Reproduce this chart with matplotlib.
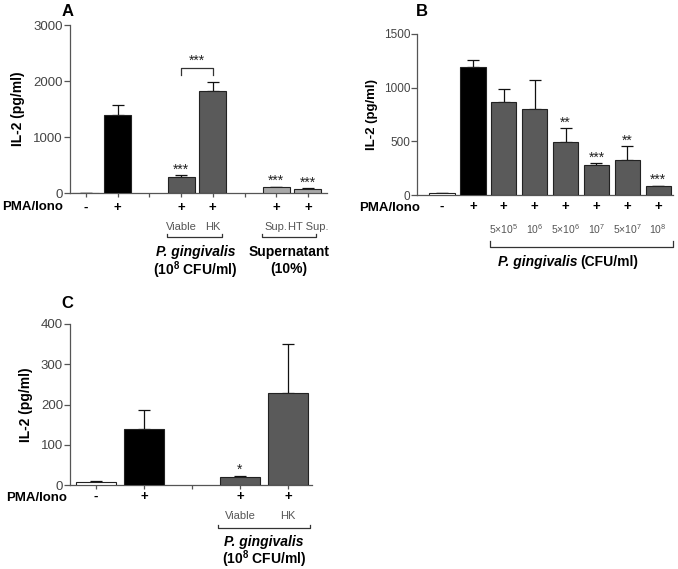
import matplotlib
matplotlib.use("Agg")
import matplotlib.pyplot as plt
import matplotlib.transforms as mtransforms

plt.rcParams['font.family'] = ['Liberation Sans', 'DejaVu Sans']
plt.rcParams['mathtext.fontset'] = 'custom'
plt.rcParams['mathtext.rm'] = 'Liberation Sans'
plt.rcParams['mathtext.bf'] = 'Liberation Sans:bold'

# ---------------- data ----------------
# Panel A
a_pos = [0, 1, 3, 4, 6, 7]
a_vals = [5, 1400, 280, 1820, 100, 70]
a_err = [5, 1580, 320, 1980, 110, 85]
a_colors = ['white', 'black', '#5a5a5a', '#5a5a5a', '#a8a8a8', '#a8a8a8']
a_pma = ['-', '+', '+', '+', '+', '+']
a_sub = ['', '', 'Viable', 'HK', 'Sup.', 'HT Sup.']
a_stars = ['', '', '***', '', '***', '***']

# Panel B
b_pos = [0, 1, 2, 3, 4, 5, 6, 7]
b_vals = [15, 1190, 870, 805, 490, 280, 325, 80]
b_err = [15, 1255, 990, 1070, 620, 295, 455, 88]
b_colors = ['white', 'black'] + ['#5a5a5a'] * 6
b_pma = ['-', '+', '+', '+', '+', '+', '+', '+']
b_conc = ['', '', r'5×10$^{5}$', r'10$^{6}$', r'5×10$^{6}$', r'10$^{7}$', r'5×10$^{7}$', r'10$^{8}$']
b_stars = ['', '', '', '', '**', '***', '**', '***']

# Panel C
c_pos = [0, 1, 3, 4]
c_vals = [7, 140, 19, 229]
c_err = [9, 187, 23, 350]
c_colors = ['white', 'black', '#5a5a5a', '#5a5a5a']
c_pma = ['-', '+', '+', '+']
c_sub = ['', '', 'Viable', 'HK']
c_stars = ['', '', '*', '']

W, H = 678, 569
fig = plt.figure(figsize=(W / 100, H / 100), dpi=100)


def fx(x):
    return x / W


def fy(y):
    return 1 - y / H


def make_ax(left, right, top, bottom):
    return fig.add_axes([fx(left), fy(bottom), (right - left) / W, (bottom - top) / H])


SPINE = '#555555'
TICKC = '#444444'
SUBC = '#555555'


def style(ax, xlim, ylim, yticks, slot_ticks, tsize=9.5, lsize=10):
    ax.set_xlim(*xlim)
    ax.set_ylim(*ylim)
    ax.set_yticks(yticks)
    ax.set_xticks(slot_ticks)
    ax.set_xticklabels([])
    for s in ['top', 'right']:
        ax.spines[s].set_visible(False)
    for s in ['left', 'bottom']:
        ax.spines[s].set_color(SPINE)
        ax.spines[s].set_linewidth(0.9)
    ax.tick_params(axis='y', direction='out', length=4, width=0.9, color=SPINE,
                   labelsize=tsize, labelcolor=TICKC, pad=1)
    ax.tick_params(axis='x', direction='out', length=3, width=0.9, color=SPINE)
    ax.set_ylabel('IL-2 (pg/ml)', fontsize=lsize, fontweight='bold', labelpad=3)


def bars(ax, pos, vals, err, colors, width, stars, star_size=10):
    ax.bar(pos, vals, width=width, color=colors, edgecolor='#222222', linewidth=0.8, zorder=3)
    lower = [0] * len(vals)
    upper = [e - v for e, v in zip(err, vals)]
    ax.errorbar(pos, vals, yerr=[lower, upper], fmt='none', ecolor='#111111',
                elinewidth=0.9, capsize=4, capthick=0.9, zorder=2)
    for p, e, s in zip(pos, err, stars):
        if s:
            ax.annotate(s, (p, e), xytext=(0, -1), textcoords='offset points',
                        ha='center', va='bottom', fontsize=star_size, color='#222222')


def below(ax, x, ypix, s, **kw):
    tr = mtransforms.blended_transform_factory(ax.transData, fig.transFigure)
    kw.setdefault('ha', 'center')
    ax.text(x, fy(ypix), s, transform=tr, va='center', clip_on=False, **kw)


def bracket(ax, x0, x1, ypix, hpix=3):
    tr = mtransforms.blended_transform_factory(ax.transData, fig.transFigure)
    ax.plot([x0, x0, x1, x1], [fy(ypix - hpix), fy(ypix), fy(ypix), fy(ypix - hpix)],
            transform=tr, color='#333333', lw=0.9, clip_on=False)


CFU = r'(10$^{\mathbf{8}}$ CFU/ml)'

# ---------------- Panel A ----------------
axA = make_ax(70, 327, 25, 193)
bars(axA, a_pos, a_vals, a_err, a_colors, 0.85, a_stars)
style(axA, (-0.5, 7.6), (0, 3000), [0, 1000, 2000, 3000], list(range(8)))
axA.yaxis.set_label_coords(fx(25 - 70) / ((327 - 70) / W), 0.5)
# significance bracket viable vs HK
axA.plot([3, 3, 4, 4], [2110, 2235, 2235, 2110], color='#333333', lw=0.9)
axA.text(3.5, 2230, '***', ha='center', va='bottom', fontsize=10, color='#222222')
for p, m, s in zip(a_pos, a_pma, a_sub):
    below(axA, p, 208, m, fontsize=9.5, fontweight='bold')
    if s:
        below(axA, p, 227, s, fontsize=8, color=SUBC)
fig.text(fx(63), fy(207), 'PMA/Iono', ha='right', va='center', fontsize=9.5, fontweight='bold')
bracket(axA, 2.56, 4.29, 237)
bracket(axA, 5.55, 7.26, 237)
below(axA, 3.45, 252, 'P. gingivalis', fontsize=10, fontweight='bold', fontstyle='italic')
below(axA, 3.45, 270, CFU, fontsize=10, fontweight='bold')
below(axA, 6.4, 252, 'Supernatant', fontsize=10, fontweight='bold')
below(axA, 6.4, 269, '(10%)', fontsize=10, fontweight='bold')
fig.text(fx(68), fy(12), 'A', ha='center', va='center', fontsize=12, fontweight='bold')

# ---------------- Panel B ----------------
axB = make_ax(417, 673, 34, 195)
bars(axB, b_pos, b_vals, b_err, b_colors, 0.82, b_stars)
style(axB, (-0.81, 7.48), (0, 1500), [0, 500, 1000, 1500], [], tsize=8.5, lsize=9.5)
axB.yaxis.set_label_coords(fx(378 - 417) / ((673 - 417) / W), 0.5)
for p, m, c in zip(b_pos, b_pma, b_conc):
    below(axB, p, 207, m, fontsize=9.5, fontweight='bold')
    if c:
        below(axB, p, 229, c, fontsize=7.5, color=SUBC)
fig.text(fx(420), fy(208), 'PMA/Iono', ha='right', va='center', fontsize=9.5, fontweight='bold')
bracket(axB, 1.55, 7.47, 247, hpix=6)
fig.text(fx(578), fy(262), 'P. gingivalis', ha='right', va='center', fontsize=10,
         fontweight='bold', fontstyle='italic')
fig.text(fx(580), fy(262), '(CFU/ml)', ha='left', va='center', fontsize=10, fontweight='bold')
fig.text(fx(422), fy(12), 'B', ha='center', va='center', fontsize=12, fontweight='bold')

# ---------------- Panel C ----------------
axC = make_ax(70, 312, 324, 485)
bars(axC, c_pos, c_vals, c_err, c_colors, 0.83, c_stars)
style(axC, (-0.54, 4.5), (0, 400), [0, 100, 200, 300, 400], list(range(5)))
axC.yaxis.set_label_coords(fx(33 - 70) / ((312 - 70) / W), 0.5)
for p, m, s in zip(c_pos, c_pma, c_sub):
    below(axC, p, 497, m, fontsize=9.5, fontweight='bold')
    if s:
        below(axC, p, 516, s, fontsize=8, color=SUBC)
fig.text(fx(67), fy(498), 'PMA/Iono', ha='right', va='center', fontsize=9.5, fontweight='bold')
bracket(axC, 2.54, 4.46, 528)
below(axC, 3.5, 542, 'P. gingivalis', fontsize=10, fontweight='bold', fontstyle='italic')
below(axC, 3.5, 559, CFU, fontsize=10, fontweight='bold')
fig.text(fx(67), fy(303), 'C', ha='center', va='center', fontsize=12, fontweight='bold')

fig.savefig('out.png', dpi=100)
